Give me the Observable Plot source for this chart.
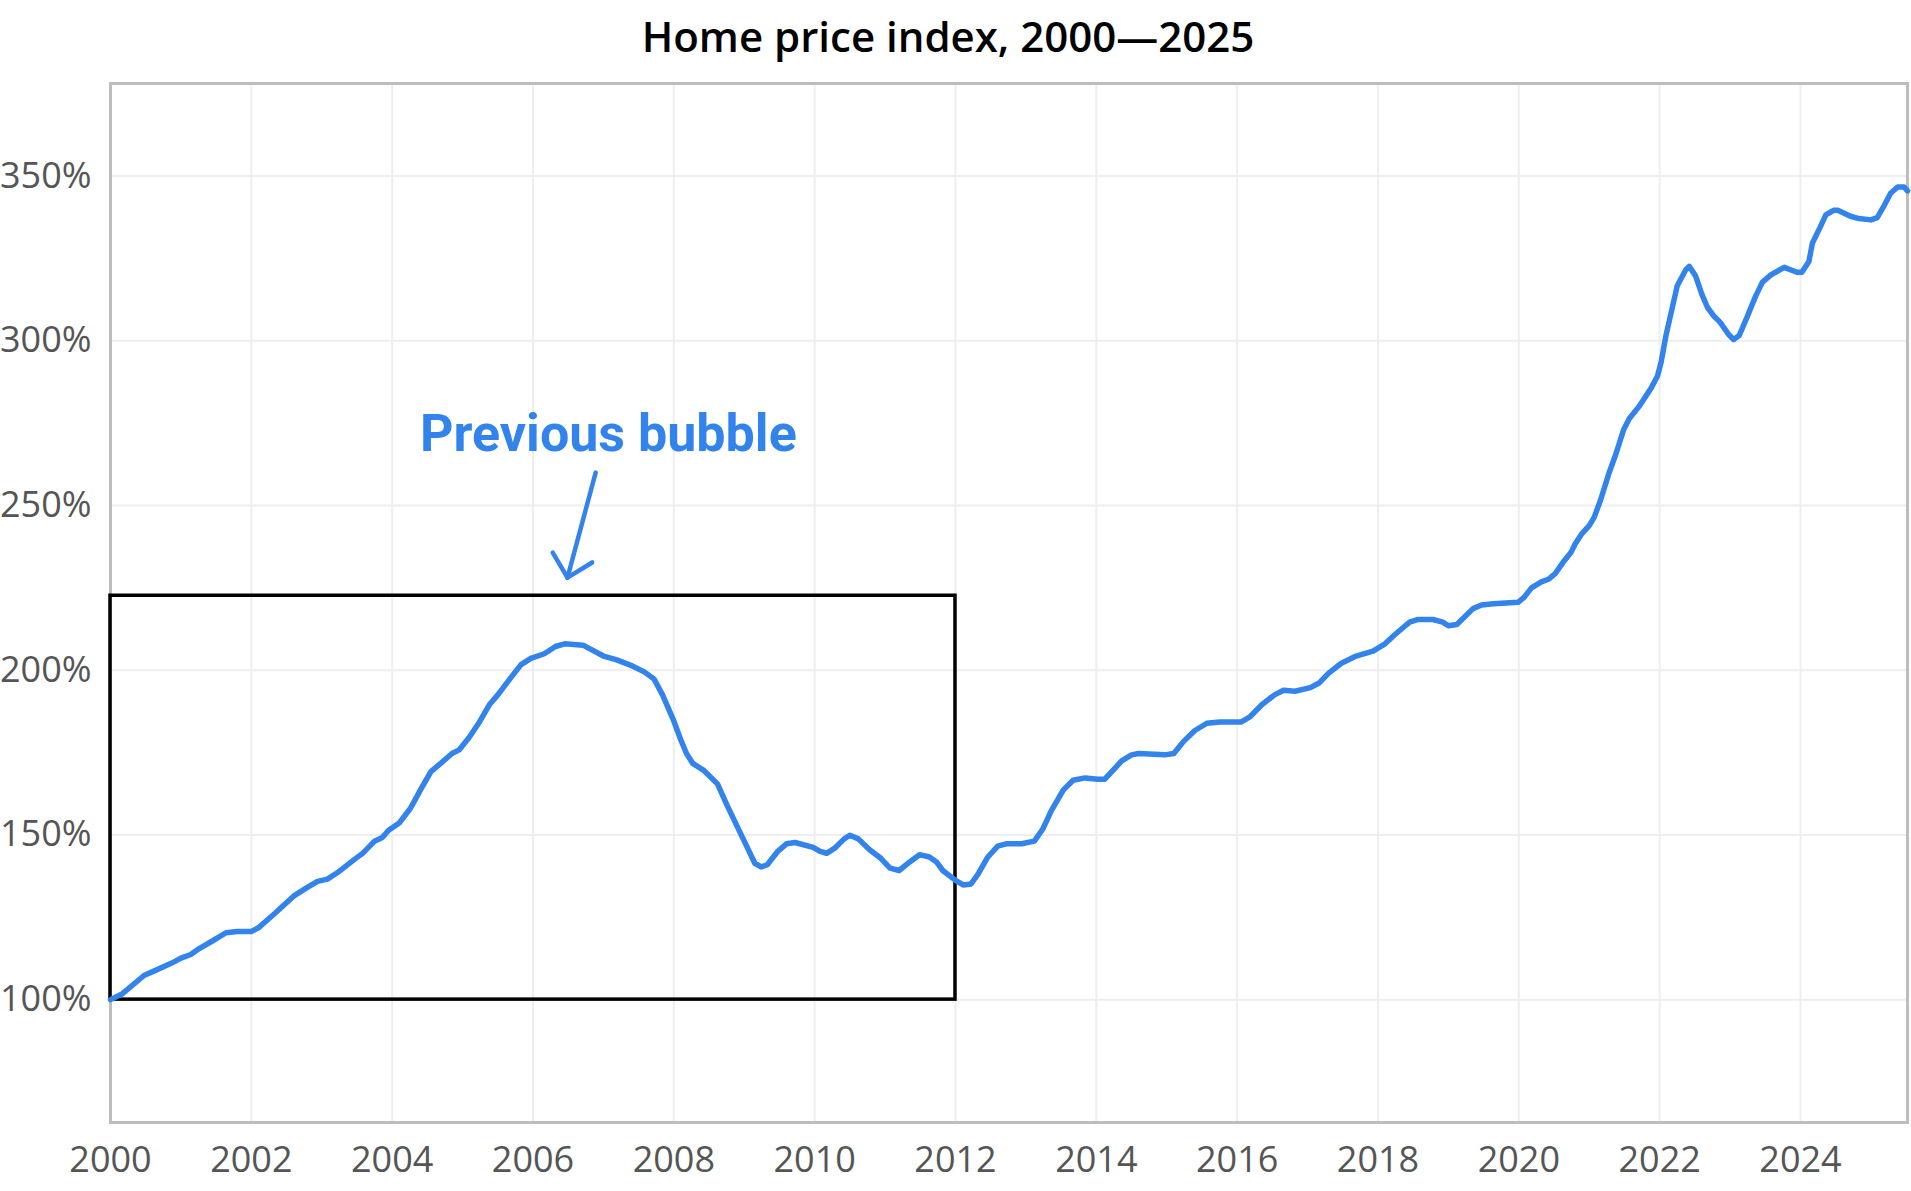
<!DOCTYPE html>
<html>
<head>
<meta charset="utf-8">
<script src="https://cdn.jsdelivr.net/npm/d3@7"></script>
<script src="https://cdn.jsdelivr.net/npm/@observablehq/plot@0.6"></script>
<style>
  html, body { margin: 0; padding: 0; background: #fff; }
  #title { height: 70px; line-height: 72px; text-align: center; font-family: "Open Sans", sans-serif; font-weight: 600; font-size: 42px; color: #000; width: 1896px; }
</style>
</head>
<body>
<div id="title">Home price index, 2000—2025</div>
<div id="chart"></div>
<script>
// Decimal year and index value (%)
const years = [2000.0,2000.17,2000.48,2000.6,2000.87,2001.0,2001.14,2001.26,2001.47,2001.64,2001.8,2002.0,2002.1,2002.34,2002.6,2002.79,2002.94,2003.08,2003.22,2003.46,2003.58,2003.75,2003.86,2003.95,2004.1,2004.26,2004.4,2004.55,2004.71,2004.85,2004.95,2005.09,2005.24,2005.38,2005.5,2005.68,2005.83,2005.97,2006.16,2006.32,2006.45,2006.71,2007.0,2007.18,2007.41,2007.58,2007.72,2007.84,2007.99,2008.1,2008.18,2008.27,2008.43,2008.62,2008.76,2009.0,2009.15,2009.24,2009.33,2009.48,2009.6,2009.72,2009.98,2010.07,2010.17,2010.28,2010.42,2010.5,2010.62,2010.78,2010.94,2011.07,2011.2,2011.35,2011.49,2011.63,2011.73,2011.82,2012.0,2012.11,2012.22,2012.32,2012.46,2012.6,2012.72,2012.94,2013.12,2013.24,2013.36,2013.53,2013.67,2013.84,2014.02,2014.12,2014.22,2014.36,2014.5,2014.6,2014.97,2015.1,2015.24,2015.4,2015.57,2015.75,2016.06,2016.18,2016.35,2016.53,2016.66,2016.82,2017.04,2017.17,2017.3,2017.48,2017.69,2017.93,2018.1,2018.23,2018.35,2018.45,2018.57,2018.78,2018.92,2019.0,2019.12,2019.35,2019.47,2019.64,2019.99,2020.07,2020.18,2020.32,2020.42,2020.52,2020.64,2020.74,2020.8,2020.89,2021.0,2021.07,2021.16,2021.28,2021.38,2021.49,2021.57,2021.71,2021.88,2021.97,2022.02,2022.09,2022.18,2022.25,2022.37,2022.42,2022.51,2022.6,2022.68,2022.77,2022.86,2022.98,2023.05,2023.13,2023.24,2023.36,2023.46,2023.58,2023.77,2023.95,2024.02,2024.12,2024.17,2024.28,2024.36,2024.47,2024.53,2024.71,2024.83,2025.0,2025.09,2025.18,2025.28,2025.38,2025.47,2025.52];
const index = [100.0,101.8,107.4,108.5,111.1,112.6,113.7,115.5,118.1,120.3,120.7,120.7,121.8,126.3,131.4,134.0,135.9,136.6,138.5,142.5,144.4,148.1,149.2,151.4,153.6,158.1,163.6,169.2,172.1,174.7,175.8,179.5,184.3,189.5,192.5,197.6,201.7,203.6,205.0,207.2,208.0,207.6,204.3,203.2,201.3,199.5,197.3,192.5,185.1,178.8,174.7,171.7,169.5,165.5,158.8,148.1,141.4,140.3,141.0,145.1,147.3,147.7,146.2,145.1,144.4,145.9,148.8,149.9,148.8,145.5,142.9,139.9,139.2,141.8,144.0,143.3,141.8,139.2,136.2,134.8,135.1,138.1,143.3,146.6,147.3,147.3,148.1,151.8,157.3,163.6,166.6,167.3,166.9,166.9,169.2,172.5,174.3,174.7,174.3,174.7,178.4,181.7,183.9,184.3,184.3,185.8,189.5,192.5,193.9,193.6,194.7,196.2,199.1,202.1,204.3,205.8,208.0,210.6,212.8,214.6,215.4,215.4,214.6,213.5,213.9,218.7,219.8,220.2,220.6,222.0,225.0,226.8,227.6,229.4,233.1,235.7,238.3,241.3,243.9,246.4,251.6,259.8,265.7,273.1,276.4,280.1,285.7,289.3,293.4,301.6,310.1,316.7,321.5,322.6,319.7,314.1,310.1,307.5,305.6,301.9,300.4,301.6,307.1,313.4,317.8,320.0,322.3,320.8,320.8,324.1,329.7,334.5,338.2,339.6,339.6,337.8,337.1,336.7,337.4,340.7,344.8,346.7,346.7,345.5];

const xTicks = [2000,2002,2004,2006,2008,2010,2012,2014,2016,2018,2020,2022,2024];
const yTicks = [100,150,200,250,300,350];

// Annotation: box around the previous bubble
const boxYears = [2000, 2012];
const boxIndex = [100, 222.6];
// Annotation label and arrow (shaft start, tip, two wing ends)
const labelText = "Previous bubble";
const labelAt = [2007.07, 271.5];
const arrowStart = [2006.89, 260.0];
const arrowTip = [2006.49, 228.1];
const arrowWings = [[2006.28, 235.7], [2006.84, 232.7]];

const data = years.map((y, i) => ({year: y, value: index[i]}));
const blue = "#3283EB";

const segs = [
  {x1: arrowStart[0], y1: arrowStart[1], x2: arrowTip[0], y2: arrowTip[1]},
  ...arrowWings.map(w => ({x1: arrowTip[0], y1: arrowTip[1], x2: w[0], y2: w[1]}))
];

const chart = Plot.plot({
  width: 1911,
  height: 1121,
  marginTop: 13,
  marginBottom: 69,
  marginLeft: 110,
  marginRight: 4,
  style: {fontFamily: "'Open Sans', sans-serif", fontSize: "36px", color: "#555", background: "#fff"},
  x: {domain: [2000, 2025.52], ticks: xTicks, tickFormat: "d", tickSize: 0, tickPadding: 24, label: null},
  y: {domain: [62.7, 378.1], ticks: yTicks, tickFormat: d => d + "%", tickSize: 0, tickPadding: 19, label: null},
  marks: [
    Plot.gridX(xTicks, {stroke: "#eeeeee", strokeOpacity: 1, strokeWidth: 2}),
    Plot.gridY(yTicks, {stroke: "#eeeeee", strokeOpacity: 1, strokeWidth: 2}),
    Plot.frame({stroke: "#bdbdbd", strokeWidth: 3}),
    Plot.rect([{x1: boxYears[0], x2: boxYears[1], y1: boxIndex[0], y2: boxIndex[1]}], {x1: "x1", x2: "x2", y1: "y1", y2: "y2", fill: "none", stroke: "#000", strokeWidth: 3.5}),
    Plot.line(data, {x: "year", y: "value", stroke: blue, strokeWidth: 5.5, strokeLinejoin: "round", strokeLinecap: "round"}),
    Plot.link(segs, {x1: "x1", y1: "y1", x2: "x2", y2: "y2", stroke: blue, strokeWidth: 4.5, strokeLinecap: "round"}),
    Plot.text([labelText], {x: labelAt[0], y: labelAt[1], text: d => d, fill: blue, fontFamily: "Roboto, sans-serif", fontWeight: 700, fontSize: 52, textAnchor: "middle"})
  ]
});
document.getElementById("chart").appendChild(chart);
</script>
</body>
</html>
